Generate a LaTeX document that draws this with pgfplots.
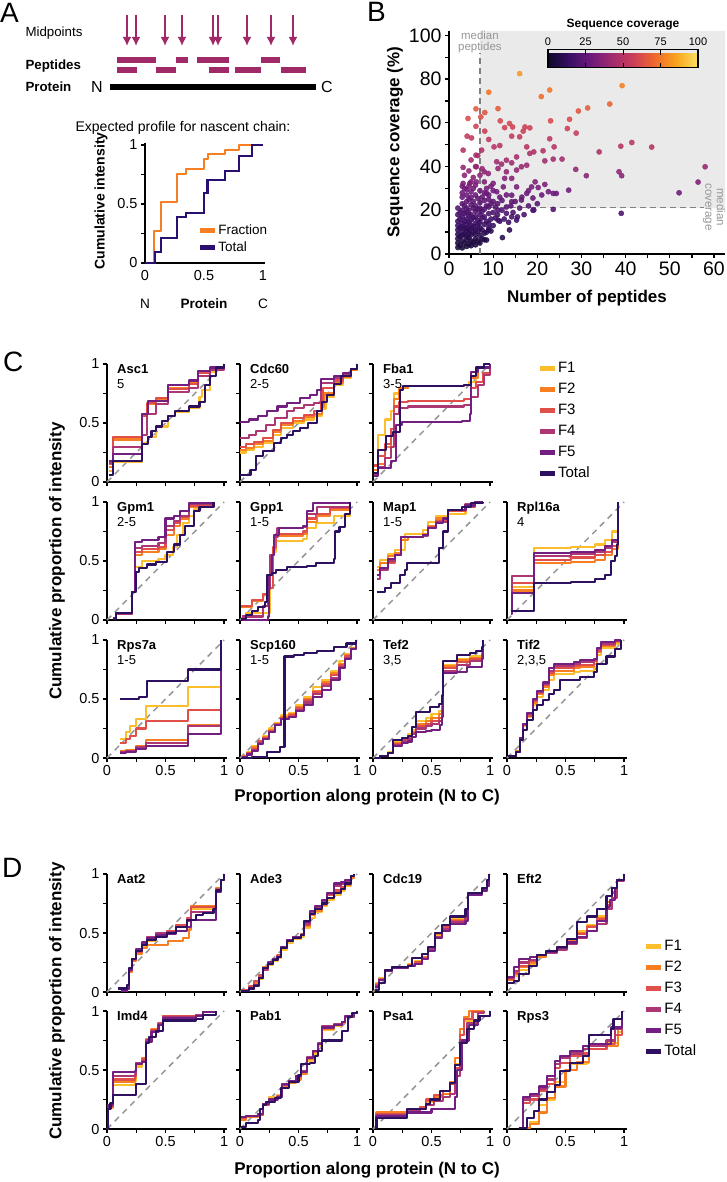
\documentclass[border=0pt]{standalone}
\usepackage{fontspec}
\setmainfont{Liberation Sans}
\usepackage{pgfplots}
\pgfplotsset{compat=1.18}
\usetikzlibrary{arrows.meta}
\newcommand{\fs}[1]{\fontsize{#1}{#1}\selectfont}
\definecolor{cF1}{RGB}{252,190,44}
\definecolor{cF2}{RGB}{247,127,33}
\definecolor{cF3}{RGB}{224,79,73}
\definecolor{cF4}{RGB}{173,55,115}
\definecolor{cF5}{RGB}{114,31,129}
\definecolor{cTot}{RGB}{45,17,96}
\definecolor{mag}{RGB}{160,42,104}
\definecolor{dgray}{RGB}{150,150,150}
\definecolor{bggray}{RGB}{234,234,234}
\pgfplotsset{
 colormap={inf}{rgb255(0cm)=(15,9,45) rgb255(1cm)=(58,14,100) rgb255(2cm)=(110,26,122) rgb255(3cm)=(162,44,110) rgb255(4cm)=(205,62,88) rgb255(5cm)=(240,105,45) rgb255(6cm)=(250,165,30) rgb255(7cm)=(248,225,100)},
 f1/.style={const plot, cF1, line width=2.1pt, line join=round},
 f2/.style={const plot, cF2, line width=2.1pt, line join=round},
 f3/.style={const plot, cF3, line width=2.1pt, line join=round},
 f4/.style={const plot, cF4, line width=2.1pt, line join=round},
 f5/.style={const plot, cF5, line width=2.1pt, line join=round},
 tot/.style={const plot, cTot, line width=2.1pt, line join=round},
 diag/.style={sharp plot, dgray, dash pattern=on 6pt off 5pt, line width=1.5pt, forget plot},
 gp/.style={scale only axis, width=120pt, height=118pt, xmin=0, xmax=1.025, ymin=0, ymax=1,
   axis lines*=left, axis line style={line width=1.4pt, black},
   xtick={0,0.5,1}, minor xtick={0.25,0.75}, ytick={0,0.5,1}, minor ytick={0.25,0.75},
   tick align=outside, major tick length=4pt, minor tick length=4pt,
   tick style={black, line width=1.3pt}, xticklabels={}, yticklabels={}, clip=false,
   anchor=south west, tick label style={font=\fs{14.5}}},
 ylab/.style={yticklabels={0,0.5,1}},
 xlab/.style={xticklabels={0,0.5,1}},
 flegend/.style={legend entries={F1,F2,F3,F4,F5,Total}, legend cell align=left,
   legend style={draw=none, fill=none, font=\fs{15}, row sep=5pt, anchor=north west,
   nodes={inner sep=1pt, text height=11pt, text depth=3pt}},
   legend image code/.code={\draw[##1, line width=5pt] (0pt,0pt) -- (15pt,0pt);}},
}
\newcommand{\glab}[2]{\node[anchor=north west, inner sep=0pt, align=left, font=\fs{13}, xshift=10pt] at (rel axis cs:0,1) {\textbf{#1}\\[2pt]#2};}
\newcommand{\glabd}[1]{\node[anchor=north west, inner sep=0pt, align=left, font=\fs{13}, xshift=10pt] at (rel axis cs:0,1) {\textbf{#1}};}
\begin{document}
\begin{tikzpicture}
\useasboundingbox (0,0) rectangle (726pt,-1182pt);
% ---------- panel letters
\node[font=\fs{28}, anchor=north west, inner sep=0] at (0pt,-3pt) {A};
\node[font=\fs{28}, anchor=north west, inner sep=0] at (367pt,-2pt) {B};
\node[font=\fs{28}, anchor=north west, inner sep=0] at (3pt,-352pt) {C};
\node[font=\fs{28}, anchor=north west, inner sep=0] at (2pt,-858pt) {D};
% ---------- panel A schematic
\begin{axis}[at={(100pt,-100pt)}, anchor=south west, scale only axis, width=235pt, height=92pt,
  xmin=100, xmax=335, ymin=-100, ymax=-8, hide axis, clip=false]
\addplot[black, line width=6pt] coordinates {(110,-87) (316,-87)};
\addplot[mag, line width=6.5pt, unbounded coords=jump] coordinates {(117,-60) (156,-60) (nan,nan) (176,-60) (188,-60) (nan,nan) (197,-60) (229,-60) (nan,nan) (261,-60) (280,-60)};
\addplot[mag, line width=6.5pt, unbounded coords=jump] coordinates {(117,-70) (137,-70) (nan,nan) (156,-70) (176,-70) (nan,nan) (209,-70) (229,-70) (nan,nan) (235,-70) (261,-70) (nan,nan) (281,-70) (306,-70)};
\addplot[mag, line width=2pt, quiver={u=0,v=-31}, -{Latex[length=9pt,width=9pt]}] coordinates {(127,-15) (136,-15) (165,-15) (182,-15) (213,-15) (218,-15) (247,-15) (271,-15) (293,-15)};
\end{axis}
\node[anchor=west, font=\fs{13.3}] at (22pt,-33pt) {Midpoints};
\node[anchor=west, font=\fs{13.3}] at (22pt,-66pt) {\textbf{Peptides}};
\node[anchor=west, font=\fs{13.3}] at (22pt,-87pt) {\textbf{Protein}};
\node[font=\fs{16}] at (97pt,-87pt) {N};
\node[font=\fs{16}] at (327pt,-87pt) {C};
\node[font=\fs{14}] at (183pt,-128pt) {Expected profile for nascent chain:};
% ---------- panel A plot
\begin{axis}[at={(145pt,-263pt)}, anchor=south west, scale only axis, width=120pt, height=120pt,
  xmin=0, xmax=1.017, ymin=0, ymax=1.017, axis lines*=left, axis line style={line width=1.4pt, black},
  xtick={0,0.5,1}, xticklabels={0,0.5,1}, ytick={0,0.5,1}, minor ytick={0.25,0.75}, yticklabels={0,0.5,1},
  tick align=outside, major tick length=4pt, minor tick length=4pt, tick style={black, line width=1.3pt},
  xtick style={draw=none}, tick label style={font=\fs{14.5}}, clip=false,
  legend entries={Fraction,Total}, legend cell align=left,
  legend style={at={(0.41,0.35)}, anchor=north west, draw=none, fill=none, font=\fs{13.5}, row sep=2.5pt,
    nodes={inner sep=1pt, text height=10pt, text depth=2.5pt}},
  legend image code/.code={\draw[#1, line width=5pt] (0pt,0pt) -- (15pt,0pt);}]
\addplot[f2] coordinates {(0,0) (0.076,0.27) (0.135,0.52) (0.27,0.755) (0.35,0.80) (0.50,0.88) (0.535,0.92) (0.68,0.96) (0.80,1.0) (1.0,1.0)};
\addplot[const plot, cTot!90!blue, line width=2.1pt] coordinates {(0,0) (0.085,0.09) (0.135,0.21) (0.27,0.39) (0.35,0.42) (0.50,0.59) (0.53,0.70) (0.68,0.78) (0.80,0.91) (0.91,1.0) (1.0,1.0)};
\end{axis}
\node[font=\fs{14}, rotate=90] at (101pt,-201pt) {\textbf{Cumulative intensity}};
\node[font=\fs{13.6}] at (145pt,-304pt) {N};
\node[font=\fs{13.6}] at (204pt,-304pt) {\textbf{Protein}};
\node[font=\fs{13.6}] at (263pt,-304pt) {C};
% ---------- panel B
\begin{axis}[at={(449pt,-254pt)}, anchor=south west, scale only axis, width=276pt, height=223pt,
  xmin=0, xmax=62.5, ymin=0, ymax=102, axis lines*=left, axis line style={line width=1.4pt, black},
  xtick={0,10,20,30,40,50,60}, xticklabels={0,10,20,30,40,50,60}, minor xtick={5,15,25,35,45,55},
  ytick={0,20,40,60,80,100}, yticklabels={0,20,40,60,80,100}, minor ytick={10,30,50,70,90},
  tick align=outside, major tick length=4pt, minor tick length=4pt, tick style={black, line width=1.3pt},
  tick label style={font=\fs{19.5}}, clip=false,
  colormap name=inf, point meta min=0, point meta max=100,
  colorbar horizontal,
  colorbar style={at={(parent axis.south west)}, anchor=south west, xshift=99pt, yshift=195pt,
    scale only axis, width=150pt, height=18pt, xtick={0,25,50,75,100}, xticklabels={0,25,50,75,100},
    xticklabel pos=upper, tick align=inside, major tick length=5pt, tick style={black, line width=1pt},
    axis line style={line width=1.2pt}, tick label style={font=\fs{11}},
    title={\textbf{Sequence coverage}}, title style={font=\fs{12}, at={(0.5,1)}, anchor=south, yshift=10pt}}]
\addplot[fill=bggray, draw=none] coordinates {(7,21) (62.5,21) (62.5,102) (7,102) (7,21)};
\addplot[sharp plot, gray, dash pattern=on 6pt off 4pt, line width=1.3pt] coordinates {(7,0) (7,92)};
\addplot[sharp plot, gray, dash pattern=on 6pt off 4pt, line width=1.3pt] coordinates {(7,21.3) (57.8,21.3)};
\addplot[scatter, only marks, mark=*, mark size=2.6pt, point meta=y, fill opacity=0.88, draw opacity=0.88,
  scatter/use mapped color={draw=mapped color, fill=mapped color}] coordinates {
(16.0,82.5) (9.0,74) (22.8,75) (20.9,72) (39.2,77) (36.4,68.6) (31.4,66.8) (29.3,65.4) (11.1,66.5) (6.1,66.4)
(7.2,62.7) (4.3,62) (8.1,64.7) (11.6,60.9) (23.0,60.9) (27.3,61.6) (26.8,57.4) (28.8,55.3) (18.3,57.7) (17.2,58.1)
(16.8,56.2) (13.7,59.7) (12.6,57.8) (14.4,58.1) (6.1,58.4) (8.1,56.2) (4.1,53.9) (5.1,53.1) (9.0,52.4) (14.2,53.9)
(16.0,53.6) (22.8,52.7) (23.8,49) (17.6,49) (10.2,49) (11.5,49.6) (38.9,49.3) (41.4,51) (45.9,48.9) (34.0,46.7)
(3.2,47.5) (7.4,47.5) (6.1,45.2) (15.3,44.4) (18.3,46) (19.2,46.7) (21.3,47.2) (23.6,43.4) (25.6,43.4) (21.7,42.6)
(10.8,42.2) (13.0,42.9) (14.2,41.7) (6.2,39.9) (3.2,39.6) (11.9,41.1) (16.4,39.9) (17.6,40.6) (11.1,39.1) (8.0,37.6)
(8.9,36.8) (13.0,37.6) (15.3,38.4) (28.7,38.7) (58.0,39.9) (38.5,37.6) (39.1,35.8) (31.1,35.8) (12.6,34.6) (14.2,34.6)
(19.5,33) (21.7,31.8) (10.0,32.3) (6.2,33) (4.7,32.3) (3.2,32.3) (56.4,32.9) (12.3,30.7) (15.3,30.7) (18.7,30.7)
(20.2,30.4) (22.5,28.5) (24.3,27.7) (27.1,29.2) (52.1,28) (23.6,27.7) (17.6,27.7) (14.2,26.9) (10.8,28.5) (8.5,27.7)
(19.0,25.6) (16.4,24.7) (14.2,23.9) (39.0,18.6) (23.6,20.4) (19.2,20.1) (13.0,18.6) (15.3,15.5) (12.1,7.5) (13.7,11)
(9.0,11) (8.5,6.4) (14.2,17) (11.1,15.5) (11.1,20.1)
(2,3) (2,5) (2,7) (2,9) (2,11) (2,13) (2,15) (2,18) (2,21)
(2.5,4) (2.5,8) (2.5,12) (2.5,16) (2.5,19)
(3,2.8) (3,6) (3,8.5) (3,10) (3,12.5) (3,14) (3,17) (3,20) (3,23) (3,26) (3,28) (3,31)
(3.5,5) (3.5,9) (3.5,11.5) (3.5,15) (3.5,18.5) (3.5,22) (3.5,30) (3.5,36)
(4,3.5) (4,6.5) (4,8) (4,10.5) (4,12) (4,13.5) (4,16) (4,19) (4,21) (4,24) (4,27) (4,29.5)
(4.5,4.5) (4.5,7.5) (4.5,9.5) (4.5,11) (4.5,14.5) (4.5,17.5) (4.5,20) (4.5,25) (4.5,31) (4.5,38)
(5,3.8) (5,6) (5,8.8) (5,11.8) (5,13) (5,15.5) (5,18) (5,22.5) (5,26) (5,28.5) (5,33) (5,43)
(5.5,5.5) (5.5,10) (5.5,12.5) (5.5,16.5) (5.5,21) (5.5,24) (5.5,30) (5.5,35)
(6,4.2) (6,7) (6,9) (6,11) (6,14) (6,17) (6,19.5) (6,22) (6,27) (6,31.5) (6,40)
(6.5,6) (6.5,10.5) (6.5,13) (6.5,15.5) (6.5,20.5) (6.5,25.5) (6.5,45)
(7,5) (7,8.5) (7,12) (7,14.5) (7,18) (7,21) (7,23.5) (7,29) (7,36)
(7.5,7) (7.5,11) (7.5,16.5) (7.5,19.5) (7.5,26) (7.5,39)
(8,6.5) (8,9.5) (8,13.5) (8,17) (8,20.5) (8,24.5) (8,28) (8,33)
(8.5,10) (8.5,15) (8.5,22) (8.5,30)
(9,12) (9,14) (9,18.5) (9,21.5) (9,25) (9,27)
(9.5,10.5) (9.5,16) (9.5,23) (9.5,31)
(10,13) (10,19) (10,24) (10,29)
(10.5,16.5) (10.5,21.5) (11,18) (11,23) (11.5,15) (11.5,26) (12,20) (12,24.5) (12.5,16) (13,21.5) (13,27)
(13.5,14.5) (14,22) (14.5,19) (15,24) (15.5,17) (16,21) (16.5,26) (17,18) (18,22) (18,29) (19,20) (20,23) (21,27)
};
\node[font=\fs{11.5}, text=dgray, align=center, inner sep=0pt] at (axis cs:7,97) {median\\[0pt]peptides};
\node[font=\fs{11.5}, text=dgray, align=center, inner sep=0pt, rotate=-90] at (axis cs:60,21.5) {median\\[0pt]coverage};
\end{axis}
\node[font=\fs{17}, rotate=90] at (395pt,-142pt) {\textbf{Sequence coverage (\%)}};
\node[font=\fs{17}] at (587pt,-298pt) {\textbf{Number of peptides}};
% ---------- panel C
% Asc1
\begin{axis}[gp, ylab, at={(107pt,-482pt)}]
\addplot[diag] coordinates {(0,0) (1,1)};
\addplot[f1] coordinates {(0.02,0.09) (0.05,0.17) (0.3,0.33) (0.35,0.38) (0.42,0.47) (0.52,0.56) (0.58,0.59) (0.7,0.63) (0.79,0.72) (0.81,0.78) (0.88,0.93) (0.93,0.97) (1,1)};
\addplot[f2] coordinates {(0.02,0.13) (0.05,0.36) (0.3,0.58) (0.34,0.66) (0.42,0.70) (0.52,0.80) (0.70,0.84) (0.78,0.93) (0.88,0.96) (1,1)};
\addplot[f3] coordinates {(0.02,0.15) (0.05,0.38) (0.3,0.56) (0.34,0.67) (0.42,0.71) (0.52,0.79) (0.70,0.83) (0.78,0.92) (0.88,0.96) (1,1)};
\addplot[f4] coordinates {(0.02,0.16) (0.05,0.30) (0.3,0.40) (0.34,0.58) (0.42,0.66) (0.52,0.76) (0.70,0.80) (0.78,0.90) (0.88,0.95) (1,1)};
\addplot[f5] coordinates {(0.02,0.18) (0.05,0.24) (0.3,0.58) (0.35,0.69) (0.52,0.82) (0.70,0.86) (0.78,0.94) (0.88,0.97) (1,1)};
\addplot[tot] coordinates {(0.02,0.06) (0.05,0.18) (0.3,0.32) (0.35,0.38) (0.38,0.43) (0.42,0.47) (0.47,0.52) (0.52,0.56) (0.58,0.60) (0.7,0.64) (0.79,0.68) (0.84,0.82) (0.88,0.90) (0.93,0.97) (1,1)};
\glab{Asc1}{5}
\end{axis}
% Cdc60
\begin{axis}[gp, at={(240pt,-482pt)}]
\addplot[diag] coordinates {(0,0) (1,1)};
\addplot[f1] coordinates {(0,0.25) (0.05,0.27) (0.12,0.30) (0.2,0.33) (0.28,0.40) (0.35,0.46) (0.45,0.50) (0.55,0.53) (0.63,0.56) (0.70,0.62) (0.73,0.72) (0.80,0.82) (0.88,0.88) (0.95,0.95) (1,1)};
\addplot[f2] coordinates {(0,0.27) (0.05,0.29) (0.12,0.32) (0.2,0.35) (0.28,0.42) (0.35,0.48) (0.45,0.52) (0.55,0.55) (0.63,0.58) (0.70,0.64) (0.72,0.75) (0.80,0.84) (0.88,0.89) (0.95,0.95) (1,1)};
\addplot[f3] coordinates {(0,0.30) (0.05,0.32) (0.12,0.34) (0.2,0.37) (0.28,0.44) (0.35,0.50) (0.45,0.54) (0.55,0.57) (0.63,0.60) (0.69,0.66) (0.71,0.80) (0.80,0.86) (0.88,0.90) (0.95,0.96) (1,1)};
\addplot[f4] coordinates {(0,0.37) (0.08,0.40) (0.14,0.43) (0.22,0.48) (0.3,0.54) (0.4,0.60) (0.46,0.63) (0.55,0.65) (0.63,0.67) (0.69,0.84) (0.80,0.88) (0.88,0.91) (0.95,0.96) (1,1)};
\addplot[f5] coordinates {(0,0.51) (0.08,0.53) (0.15,0.56) (0.23,0.60) (0.32,0.64) (0.40,0.67) (0.51,0.71) (0.6,0.74) (0.66,0.78) (0.69,0.87) (0.80,0.90) (0.88,0.92) (0.95,0.96) (1,1)};
\addplot[tot] coordinates {(0,0.06) (0.09,0.10) (0.14,0.22) (0.2,0.26) (0.29,0.33) (0.35,0.37) (0.4,0.40) (0.45,0.43) (0.51,0.46) (0.58,0.50) (0.66,0.60) (0.70,0.68) (0.74,0.74) (0.80,0.83) (0.86,0.90) (0.95,0.96) (1,1)};
\glab{Cdc60}{2-5}
\end{axis}
% Fba1
\begin{axis}[gp, at={(373pt,-482pt)}, flegend, legend style={at={(1.34,1.05)}}]
\addplot[diag] coordinates {(0,0) (1,1)};
\addplot[f1] coordinates {(0.01,0.08) (0.04,0.40) (0.1,0.53) (0.15,0.60) (0.18,0.75) (0.22,0.80) (0.3,0.81) (0.78,0.82) (0.82,0.85) (0.88,0.97) (0.95,1.0) (1,1)};
\addplot[f2] coordinates {(0.01,0.10) (0.04,0.15) (0.1,0.30) (0.15,0.45) (0.18,0.70) (0.22,0.80) (0.3,0.81) (0.78,0.82) (0.84,0.88) (0.9,0.97) (1,1)};
\addplot[f3] coordinates {(0.01,0.14) (0.04,0.22) (0.1,0.32) (0.15,0.45) (0.18,0.64) (0.22,0.68) (0.3,0.69) (0.78,0.70) (0.84,0.80) (0.88,0.85) (0.94,0.92) (1,1)};
\addplot[f4] coordinates {(0.01,0.06) (0.04,0.13) (0.1,0.20) (0.15,0.30) (0.18,0.58) (0.22,0.63) (0.3,0.64) (0.78,0.65) (0.84,0.72) (0.9,0.82) (0.95,0.91) (1,1)};
\addplot[f5] coordinates {(0.01,0.05) (0.04,0.12) (0.1,0.12) (0.15,0.18) (0.2,0.48) (0.25,0.51) (0.76,0.52) (0.83,0.58) (0.84,0.93) (0.9,0.97) (1,1)};
\addplot[tot] coordinates {(0.01,0.08) (0.04,0.27) (0.11,0.39) (0.17,0.42) (0.23,0.78) (0.26,0.81) (0.78,0.82) (0.84,0.9) (0.88,0.97) (0.95,1.0) (1,1)};
\glab{Fba1}{3-5}
\end{axis}
% Gpm1
\begin{axis}[gp, ylab, at={(107pt,-620pt)}]
\addplot[diag] coordinates {(0,0) (1,1)};
\addplot[f1] coordinates {(0.05,0.02) (0.08,0.06) (0.21,0.24) (0.24,0.45) (0.3,0.5) (0.44,0.52) (0.5,0.55) (0.56,0.62) (0.6,0.72) (0.65,0.82) (0.7,0.88) (0.74,0.94) (0.8,0.97) (0.91,1.0)};
\addplot[f2] coordinates {(0.05,0.02) (0.08,0.05) (0.21,0.24) (0.24,0.55) (0.3,0.58) (0.44,0.60) (0.5,0.72) (0.57,0.80) (0.62,0.86) (0.70,0.96) (0.91,1.0)};
\addplot[f3] coordinates {(0.05,0.02) (0.08,0.05) (0.21,0.24) (0.24,0.58) (0.3,0.60) (0.44,0.62) (0.5,0.76) (0.57,0.82) (0.62,0.87) (0.70,0.97) (0.91,1.0)};
\addplot[f4] coordinates {(0.05,0.02) (0.08,0.05) (0.21,0.24) (0.24,0.61) (0.3,0.63) (0.44,0.65) (0.5,0.80) (0.57,0.84) (0.62,0.88) (0.70,0.98) (0.91,1.0)};
\addplot[f5] coordinates {(0.05,0.02) (0.08,0.06) (0.21,0.24) (0.24,0.66) (0.3,0.68) (0.44,0.70) (0.5,0.86) (0.57,0.88) (0.62,0.92) (0.70,0.99) (0.91,1.0)};
\addplot[tot] coordinates {(0.05,0.01) (0.08,0.06) (0.21,0.24) (0.25,0.41) (0.27,0.44) (0.34,0.47) (0.42,0.49) (0.51,0.58) (0.57,0.64) (0.62,0.72) (0.67,0.80) (0.74,0.92) (0.79,0.96) (0.91,1.0)};
\glab{Gpm1}{2-5}
\end{axis}
% Gpp1
\begin{axis}[gp, at={(240pt,-620pt)}]
\addplot[diag] coordinates {(0,0) (1,1)};
\addplot[f1] coordinates {(0.04,0.06) (0.24,0.06) (0.26,0.50) (0.28,0.58) (0.31,0.67) (0.54,0.69) (0.57,0.78) (0.65,0.82) (0.8,0.88) (0.94,1.0)};
\addplot[f2] coordinates {(0.01,0.11) (0.1,0.16) (0.2,0.21) (0.24,0.27) (0.28,0.60) (0.31,0.71) (0.54,0.73) (0.57,0.83) (0.66,0.88) (0.77,0.93) (0.94,1.0)};
\addplot[f3] coordinates {(0.01,0.12) (0.1,0.17) (0.2,0.22) (0.24,0.27) (0.28,0.62) (0.31,0.73) (0.54,0.75) (0.57,0.86) (0.65,0.90) (0.77,0.95) (0.94,1.0)};
\addplot[f4] coordinates {(0.02,0.03) (0.2,0.12) (0.24,0.26) (0.26,0.55) (0.29,0.70) (0.32,0.78) (0.54,0.79) (0.57,0.90) (0.66,0.96) (0.94,1.0)};
\addplot[f5] coordinates {(0.02,0.0) (0.24,0.03) (0.25,0.38) (0.27,0.55) (0.29,0.72) (0.33,0.78) (0.54,0.80) (0.57,0.92) (0.62,0.99) (0.94,1.0)};
\addplot[tot] coordinates {(0.01,0.01) (0.05,0.04) (0.1,0.08) (0.15,0.11) (0.21,0.15) (0.23,0.38) (0.27,0.40) (0.31,0.42) (0.40,0.45) (0.57,0.46) (0.65,0.48) (0.8,0.52) (0.81,0.75) (0.85,0.79) (0.9,0.9) (0.94,1.0)};
\glab{Gpp1}{1-5}
\end{axis}
% Map1
\begin{axis}[gp, at={(373pt,-620pt)}]
\addplot[diag] coordinates {(0,0) (1,1)};
\addplot[f1] coordinates {(0.03,0.45) (0.06,0.51) (0.13,0.56) (0.19,0.59) (0.27,0.73) (0.43,0.76) (0.47,0.83) (0.54,0.88) (0.64,0.90) (0.79,0.96) (0.87,1.0) (0.94,1.0)};
\addplot[f2] coordinates {(0.03,0.42) (0.06,0.48) (0.13,0.54) (0.19,0.57) (0.24,0.68) (0.3,0.70) (0.43,0.73) (0.47,0.80) (0.54,0.86) (0.64,0.92) (0.79,0.97) (0.87,0.99) (0.94,1.0)};
\addplot[f3] coordinates {(0.03,0.38) (0.06,0.44) (0.13,0.48) (0.19,0.55) (0.24,0.70) (0.43,0.72) (0.47,0.79) (0.54,0.84) (0.64,0.92) (0.79,0.96) (0.87,1.0) (0.94,1.0)};
\addplot[f4] coordinates {(0.03,0.35) (0.06,0.42) (0.13,0.50) (0.19,0.55) (0.24,0.70) (0.43,0.71) (0.47,0.78) (0.54,0.83) (0.64,0.93) (0.79,0.98) (0.87,1.0) (0.94,1.0)};
\addplot[f5] coordinates {(0.03,0.38) (0.06,0.44) (0.13,0.52) (0.19,0.55) (0.24,0.70) (0.43,0.72) (0.47,0.78) (0.54,0.82) (0.6,0.86) (0.64,0.93) (0.79,0.97) (0.87,1.0) (0.94,1.0)};
\addplot[tot] coordinates {(0.03,0.24) (0.10,0.27) (0.15,0.31) (0.23,0.38) (0.27,0.42) (0.29,0.48) (0.52,0.48) (0.56,0.61) (0.6,0.75) (0.64,0.93) (0.76,0.96) (0.84,0.99) (0.94,1.0)};
\glab{Map1}{1-5}
\end{axis}
% Rpl16a
\begin{axis}[gp, at={(507pt,-620pt)}]
\addplot[diag] coordinates {(0,0) (1,1)};
\addplot[f1] coordinates {(0.03,0.08) (0.04,0.28) (0.23,0.61) (0.55,0.62) (0.75,0.64) (0.84,0.68) (0.9,0.75) (0.95,0.98)};
\addplot[f2] coordinates {(0.03,0.08) (0.04,0.25) (0.23,0.48) (0.55,0.49) (0.75,0.51) (0.84,0.55) (0.9,0.60) (0.95,0.97)};
\addplot[f3] coordinates {(0.03,0.08) (0.04,0.31) (0.23,0.51) (0.55,0.53) (0.75,0.55) (0.84,0.58) (0.9,0.63) (0.95,0.96)};
\addplot[f4] coordinates {(0.03,0.08) (0.04,0.37) (0.23,0.54) (0.55,0.56) (0.75,0.58) (0.84,0.61) (0.9,0.66) (0.95,0.97)};
\addplot[f5] coordinates {(0.03,0.05) (0.04,0.23) (0.23,0.57) (0.55,0.58) (0.75,0.59) (0.84,0.63) (0.9,0.68) (0.95,1.0)};
\addplot[tot] coordinates {(0.03,0.08) (0.23,0.31) (0.55,0.32) (0.75,0.35) (0.84,0.38) (0.89,0.50) (0.92,0.54) (0.94,0.64) (0.95,1.0)};
\glab{Rpl16a}{4}
\end{axis}
% Rps7a
\begin{axis}[gp, ylab, xlab, at={(107pt,-758pt)}]
\addplot[diag] coordinates {(0,0) (1,1)};
\addplot[f1] coordinates {(0.11,0.16) (0.16,0.22) (0.2,0.27) (0.25,0.33) (0.33,0.44) (0.69,0.60) (0.97,1.0)};
\addplot[f2] coordinates {(0.11,0.06) (0.16,0.07) (0.25,0.10) (0.33,0.15) (0.69,0.28) (0.97,1.0)};
\addplot[f3] coordinates {(0.11,0.13) (0.16,0.16) (0.2,0.19) (0.25,0.25) (0.33,0.31) (0.69,0.41) (0.97,1.0)};
\addplot[f4] coordinates {(0.11,0.05) (0.16,0.06) (0.25,0.09) (0.33,0.13) (0.69,0.27) (0.97,1.0)};
\addplot[f5] coordinates {(0.11,0.04) (0.16,0.05) (0.25,0.08) (0.33,0.10) (0.69,0.20) (0.97,1.0)};
\addplot[tot] coordinates {(0.11,0.50) (0.23,0.50) (0.27,0.52) (0.34,0.65) (0.69,0.75) (0.97,1.0)};
\glab{Rps7a}{1-5}
\end{axis}
% Scp160
\begin{axis}[gp, xlab, at={(240pt,-758pt)}]
\addplot[diag] coordinates {(0,0) (1,1)};
\addplot[f1] coordinates {(0.02,0.02) (0.06,0.05) (0.1,0.10) (0.15,0.14) (0.2,0.19) (0.25,0.25) (0.3,0.30) (0.35,0.36) (0.42,0.38) (0.48,0.45) (0.55,0.52) (0.62,0.60) (0.7,0.66) (0.78,0.74) (0.85,0.82) (0.9,0.88) (0.95,0.93) (0.99,1.0)};
\addplot[f2] coordinates {(0.02,0.02) (0.06,0.04) (0.1,0.09) (0.15,0.13) (0.2,0.18) (0.25,0.24) (0.3,0.29) (0.35,0.35) (0.42,0.37) (0.48,0.43) (0.55,0.50) (0.62,0.57) (0.7,0.64) (0.78,0.72) (0.85,0.80) (0.9,0.87) (0.95,0.93) (0.99,1.0)};
\addplot[f3] coordinates {(0.02,0.01) (0.06,0.04) (0.1,0.08) (0.15,0.14) (0.2,0.17) (0.25,0.23) (0.3,0.29) (0.35,0.34) (0.42,0.36) (0.48,0.42) (0.55,0.49) (0.62,0.56) (0.7,0.63) (0.78,0.70) (0.85,0.79) (0.9,0.86) (0.95,0.92) (0.99,1.0)};
\addplot[f4] coordinates {(0.02,0.01) (0.06,0.03) (0.1,0.07) (0.15,0.13) (0.2,0.16) (0.25,0.22) (0.3,0.28) (0.35,0.33) (0.42,0.35) (0.48,0.41) (0.55,0.47) (0.62,0.54) (0.7,0.61) (0.78,0.68) (0.85,0.77) (0.9,0.85) (0.95,0.92) (0.99,1.0)};
\addplot[f5] coordinates {(0.02,0.01) (0.06,0.03) (0.1,0.06) (0.15,0.12) (0.2,0.16) (0.25,0.22) (0.3,0.28) (0.35,0.33) (0.42,0.35) (0.48,0.40) (0.55,0.45) (0.62,0.52) (0.7,0.58) (0.78,0.66) (0.85,0.76) (0.9,0.84) (0.95,0.92) (0.99,1.0)};
\addplot[tot] coordinates {(0.02,0.0) (0.1,0.01) (0.23,0.05) (0.34,0.09) (0.38,0.86) (0.46,0.87) (0.55,0.89) (0.66,0.91) (0.8,0.94) (0.91,0.97) (0.99,1.0)};
\glab{Scp160}{1-5}
\end{axis}
% Tef2
\begin{axis}[gp, xlab, at={(373pt,-758pt)}]
\addplot[diag] coordinates {(0,0) (1,1)};
\addplot[f1] coordinates {(0.02,0.0) (0.06,0.02) (0.13,0.05) (0.17,0.14) (0.25,0.17) (0.3,0.20) (0.33,0.24) (0.37,0.31) (0.45,0.34) (0.5,0.37) (0.56,0.40) (0.59,0.48) (0.6,0.79) (0.72,0.84) (0.83,0.86) (0.93,0.90) (0.94,1.0)};
\addplot[f2] coordinates {(0.02,0.0) (0.06,0.02) (0.13,0.04) (0.17,0.13) (0.25,0.16) (0.3,0.18) (0.33,0.22) (0.37,0.29) (0.45,0.31) (0.5,0.34) (0.56,0.37) (0.59,0.46) (0.6,0.78) (0.72,0.83) (0.83,0.85) (0.93,0.89) (0.94,1.0)};
\addplot[f3] coordinates {(0.02,0.0) (0.06,0.02) (0.13,0.04) (0.17,0.12) (0.25,0.15) (0.3,0.17) (0.33,0.21) (0.37,0.27) (0.45,0.29) (0.5,0.31) (0.56,0.34) (0.59,0.43) (0.6,0.76) (0.72,0.81) (0.83,0.84) (0.93,0.88) (0.94,1.0)};
\addplot[f4] coordinates {(0.02,0.0) (0.06,0.02) (0.13,0.04) (0.17,0.11) (0.25,0.14) (0.3,0.16) (0.33,0.20) (0.37,0.25) (0.45,0.27) (0.5,0.29) (0.56,0.31) (0.59,0.40) (0.6,0.74) (0.72,0.79) (0.83,0.82) (0.93,0.87) (0.94,1.0)};
\addplot[f5] coordinates {(0.02,0.0) (0.06,0.02) (0.13,0.04) (0.17,0.10) (0.25,0.13) (0.3,0.14) (0.33,0.18) (0.37,0.22) (0.45,0.23) (0.5,0.24) (0.57,0.28) (0.59,0.35) (0.6,0.72) (0.72,0.73) (0.8,0.77) (0.93,0.84) (0.94,1.0)};
\addplot[tot] coordinates {(0.02,0.0) (0.06,0.02) (0.13,0.04) (0.17,0.15) (0.25,0.17) (0.3,0.19) (0.33,0.26) (0.37,0.39) (0.49,0.43) (0.56,0.46) (0.59,0.53) (0.6,0.82) (0.72,0.87) (0.83,0.89) (0.88,0.91) (0.93,0.94) (0.94,1.0)};
\glab{Tef2}{3,5}
\end{axis}
% Tif2
\begin{axis}[gp, xlab, at={(507pt,-758pt)}]
\addplot[diag] coordinates {(0,0) (1,1)};
\addplot[f1] coordinates {(0.01,0.02) (0.08,0.06) (0.11,0.17) (0.14,0.27) (0.17,0.35) (0.22,0.45) (0.26,0.52) (0.31,0.58) (0.36,0.66) (0.40,0.71) (0.57,0.73) (0.62,0.74) (0.74,0.77) (0.77,0.87) (0.80,0.93) (0.92,0.97) (0.97,1.0)};
\addplot[f2] coordinates {(0.01,0.02) (0.08,0.06) (0.11,0.17) (0.14,0.28) (0.17,0.36) (0.22,0.47) (0.26,0.54) (0.31,0.60) (0.36,0.70) (0.40,0.74) (0.57,0.76) (0.62,0.77) (0.74,0.80) (0.77,0.90) (0.80,0.95) (0.92,0.98) (0.97,1.0)};
\addplot[f3] coordinates {(0.01,0.02) (0.08,0.05) (0.11,0.17) (0.14,0.28) (0.17,0.36) (0.22,0.48) (0.26,0.55) (0.31,0.62) (0.36,0.72) (0.40,0.76) (0.57,0.78) (0.62,0.79) (0.74,0.82) (0.77,0.91) (0.80,0.96) (0.92,0.99) (0.97,1.0)};
\addplot[f4] coordinates {(0.01,0.02) (0.08,0.05) (0.11,0.17) (0.14,0.29) (0.17,0.37) (0.22,0.49) (0.26,0.56) (0.31,0.63) (0.36,0.74) (0.40,0.78) (0.57,0.80) (0.62,0.81) (0.74,0.83) (0.77,0.92) (0.80,0.97) (0.92,0.99) (0.97,1.0)};
\addplot[f5] coordinates {(0.01,0.02) (0.08,0.05) (0.11,0.17) (0.14,0.29) (0.17,0.38) (0.22,0.50) (0.26,0.57) (0.31,0.64) (0.36,0.76) (0.40,0.80) (0.57,0.81) (0.62,0.83) (0.74,0.84) (0.77,0.93) (0.80,0.98) (0.92,1.0) (0.97,1.0)};
\addplot[tot] coordinates {(0.01,0.02) (0.08,0.05) (0.11,0.15) (0.14,0.24) (0.17,0.32) (0.22,0.41) (0.26,0.45) (0.31,0.49) (0.36,0.54) (0.40,0.58) (0.45,0.66) (0.57,0.66) (0.62,0.69) (0.74,0.73) (0.77,0.80) (0.85,0.86) (0.92,0.92) (0.97,1.0)};
\glab{Tif2}{2,3,5}
\end{axis}
\node[font=\fs{17}, rotate=90] at (57pt,-561pt) {\textbf{Cumulative proportion of intensity}};
\node[font=\fs{17}] at (367pt,-797pt) {\textbf{Proportion along protein (N to C)}};
% ---------- panel D
% Aat2
\begin{axis}[gp, ylab, at={(107pt,-992pt)}]
\addplot[diag] coordinates {(0,0) (1,1)};
\addplot[f1] coordinates {(0.12,0.01) (0.17,0.04) (0.19,0.18) (0.21,0.26) (0.25,0.33) (0.3,0.38) (0.34,0.43) (0.42,0.48) (0.51,0.52) (0.59,0.57) (0.68,0.62) (0.72,0.70) (0.91,0.70) (0.93,0.86) (0.97,0.95) (1,1)};
\addplot[f2] coordinates {(0.12,0.01) (0.17,0.03) (0.19,0.17) (0.21,0.26) (0.25,0.32) (0.3,0.37) (0.34,0.40) (0.45,0.40) (0.52,0.43) (0.65,0.46) (0.7,0.53) (0.72,0.73) (0.91,0.73) (0.93,0.88) (0.97,0.95) (1,1)};
\addplot[f3] coordinates {(0.12,0.01) (0.17,0.03) (0.19,0.18) (0.21,0.27) (0.25,0.34) (0.3,0.40) (0.34,0.45) (0.42,0.49) (0.51,0.52) (0.59,0.57) (0.68,0.63) (0.72,0.72) (0.91,0.72) (0.93,0.87) (0.97,0.95) (1,1)};
\addplot[f4] coordinates {(0.12,0.01) (0.17,0.03) (0.19,0.19) (0.21,0.28) (0.25,0.36) (0.3,0.42) (0.34,0.47) (0.42,0.50) (0.51,0.51) (0.59,0.55) (0.68,0.60) (0.72,0.68) (0.91,0.68) (0.93,0.86) (0.97,0.95) (1,1)};
\addplot[f5] coordinates {(0.12,0.01) (0.17,0.03) (0.19,0.19) (0.21,0.28) (0.25,0.36) (0.3,0.42) (0.34,0.46) (0.42,0.48) (0.51,0.49) (0.59,0.52) (0.68,0.55) (0.72,0.61) (0.91,0.61) (0.93,0.85) (0.97,0.95) (1,1)};
\addplot[tot] coordinates {(0.09,0.03) (0.17,0.06) (0.19,0.20) (0.21,0.28) (0.25,0.35) (0.3,0.40) (0.34,0.44) (0.42,0.47) (0.51,0.50) (0.59,0.55) (0.68,0.61) (0.76,0.65) (0.82,0.67) (0.91,0.70) (0.93,0.86) (0.97,0.95) (1.0,1.0)};
\glabd{Aat2}
\end{axis}
% Ade3
\begin{axis}[gp, at={(240pt,-992pt)}]
\addplot[diag] coordinates {(0,0) (1,1)};
\addplot[f1] coordinates {(0.01,0.01) (0.08,0.03) (0.12,0.06) (0.16,0.11) (0.2,0.19) (0.24,0.23) (0.28,0.26) (0.32,0.29) (0.35,0.36) (0.4,0.42) (0.45,0.45) (0.52,0.47) (0.55,0.54) (0.6,0.63) (0.64,0.68) (0.7,0.73) (0.74,0.78) (0.8,0.82) (0.86,0.86) (0.9,0.90) (0.95,0.97) (0.97,1.0)};
\addplot[f2] coordinates {(0.01,0.02) (0.08,0.04) (0.12,0.08) (0.16,0.13) (0.2,0.21) (0.24,0.24) (0.28,0.27) (0.32,0.30) (0.35,0.37) (0.4,0.43) (0.45,0.46) (0.52,0.48) (0.55,0.56) (0.6,0.65) (0.64,0.69) (0.7,0.74) (0.74,0.80) (0.8,0.84) (0.86,0.87) (0.9,0.91) (0.95,0.97) (0.97,1.0)};
\addplot[f3] coordinates {(0.01,0.02) (0.08,0.05) (0.12,0.09) (0.16,0.14) (0.2,0.20) (0.24,0.25) (0.28,0.28) (0.32,0.31) (0.35,0.38) (0.4,0.44) (0.45,0.47) (0.52,0.49) (0.55,0.57) (0.6,0.66) (0.64,0.71) (0.7,0.76) (0.74,0.82) (0.8,0.86) (0.86,0.89) (0.9,0.93) (0.95,0.98) (0.97,1.0)};
\addplot[f4] coordinates {(0.01,0.01) (0.08,0.03) (0.12,0.06) (0.16,0.12) (0.2,0.19) (0.24,0.24) (0.28,0.27) (0.32,0.30) (0.35,0.37) (0.4,0.43) (0.45,0.46) (0.52,0.48) (0.55,0.58) (0.6,0.68) (0.64,0.72) (0.7,0.77) (0.74,0.83) (0.8,0.90) (0.86,0.92) (0.9,0.94) (0.95,0.98) (0.97,1.0)};
\addplot[f5] coordinates {(0.01,0.01) (0.08,0.03) (0.12,0.06) (0.16,0.12) (0.2,0.20) (0.24,0.25) (0.28,0.28) (0.32,0.30) (0.35,0.38) (0.4,0.44) (0.45,0.47) (0.52,0.48) (0.55,0.59) (0.6,0.69) (0.64,0.73) (0.7,0.78) (0.74,0.84) (0.8,0.92) (0.86,0.93) (0.9,0.95) (0.95,0.98) (0.97,1.0)};
\addplot[tot] coordinates {(0.01,0.01) (0.08,0.03) (0.12,0.05) (0.16,0.12) (0.2,0.20) (0.24,0.24) (0.28,0.27) (0.32,0.30) (0.35,0.37) (0.4,0.43) (0.45,0.46) (0.52,0.48) (0.55,0.60) (0.6,0.66) (0.64,0.70) (0.7,0.75) (0.74,0.80) (0.8,0.84) (0.86,0.87) (0.9,0.92) (0.95,0.98) (0.97,1.0)};
\glabd{Ade3}
\end{axis}
% Cdc19
\begin{axis}[gp, at={(373pt,-992pt)}]
\addplot[diag] coordinates {(0,0) (1,1)};
\addplot[f1] coordinates {(0.02,0.08) (0.05,0.12) (0.1,0.19) (0.16,0.21) (0.3,0.24) (0.36,0.26) (0.42,0.30) (0.47,0.36) (0.53,0.48) (0.59,0.56) (0.66,0.62) (0.79,0.66) (0.81,0.84) (0.93,0.88) (0.97,0.92) (0.99,1.0)};
\addplot[f2] coordinates {(0.02,0.07) (0.05,0.11) (0.1,0.19) (0.16,0.21) (0.3,0.23) (0.36,0.25) (0.42,0.30) (0.47,0.37) (0.53,0.49) (0.59,0.56) (0.66,0.61) (0.79,0.65) (0.81,0.84) (0.93,0.87) (0.97,0.92) (0.99,1.0)};
\addplot[f3] coordinates {(0.02,0.06) (0.05,0.11) (0.1,0.18) (0.16,0.20) (0.3,0.23) (0.36,0.25) (0.42,0.29) (0.47,0.37) (0.53,0.50) (0.59,0.55) (0.66,0.60) (0.79,0.63) (0.81,0.83) (0.93,0.87) (0.97,0.91) (0.99,1.0)};
\addplot[f4] coordinates {(0.02,0.05) (0.05,0.10) (0.1,0.18) (0.16,0.20) (0.3,0.22) (0.36,0.24) (0.42,0.28) (0.47,0.36) (0.53,0.47) (0.59,0.53) (0.66,0.59) (0.79,0.62) (0.81,0.83) (0.93,0.86) (0.97,0.90) (0.99,1.0)};
\addplot[f5] coordinates {(0.02,0.04) (0.05,0.10) (0.1,0.18) (0.16,0.20) (0.3,0.22) (0.36,0.24) (0.42,0.28) (0.47,0.35) (0.53,0.46) (0.59,0.52) (0.66,0.58) (0.79,0.60) (0.81,0.82) (0.93,0.86) (0.97,0.90) (0.99,1.0)};
\addplot[tot] coordinates {(0.02,0.02) (0.05,0.08) (0.1,0.19) (0.16,0.21) (0.3,0.22) (0.33,0.29) (0.42,0.32) (0.47,0.38) (0.53,0.50) (0.59,0.57) (0.66,0.64) (0.79,0.70) (0.81,0.84) (0.93,0.88) (0.97,0.95) (0.99,1.0)};
\glabd{Cdc19}
\end{axis}
% Eft2
\begin{axis}[gp, at={(507pt,-992pt)}, flegend, legend style={at={(1.11,0.47)}}]
\addplot[diag] coordinates {(0,0) (1,1)};
\addplot[f1] coordinates {(0.01,0.10) (0.06,0.14) (0.1,0.19) (0.19,0.24) (0.26,0.30) (0.33,0.34) (0.43,0.38) (0.51,0.44) (0.6,0.52) (0.68,0.57) (0.77,0.64) (0.85,0.76) (0.9,0.85) (0.94,0.95) (1,1)};
\addplot[f2] coordinates {(0.01,0.10) (0.06,0.15) (0.1,0.21) (0.19,0.25) (0.26,0.30) (0.33,0.34) (0.43,0.37) (0.51,0.43) (0.6,0.50) (0.68,0.56) (0.77,0.63) (0.85,0.76) (0.9,0.85) (0.94,0.95) (1,1)};
\addplot[f3] coordinates {(0.01,0.11) (0.06,0.16) (0.1,0.22) (0.19,0.26) (0.26,0.31) (0.33,0.34) (0.43,0.37) (0.51,0.42) (0.6,0.49) (0.68,0.55) (0.77,0.62) (0.85,0.74) (0.9,0.84) (0.94,0.95) (1,1)};
\addplot[f4] coordinates {(0.01,0.12) (0.06,0.18) (0.1,0.25) (0.19,0.27) (0.26,0.31) (0.33,0.33) (0.43,0.36) (0.51,0.41) (0.6,0.46) (0.68,0.52) (0.77,0.58) (0.85,0.70) (0.9,0.80) (0.94,0.94) (1,1)};
\addplot[f5] coordinates {(0.01,0.13) (0.06,0.21) (0.1,0.28) (0.2,0.30) (0.26,0.31) (0.33,0.34) (0.43,0.37) (0.51,0.42) (0.6,0.47) (0.68,0.52) (0.77,0.60) (0.85,0.72) (0.88,0.78) (0.92,0.88) (0.94,0.95) (1,1)};
\addplot[tot] coordinates {(0.01,0.08) (0.06,0.09) (0.1,0.15) (0.19,0.22) (0.26,0.31) (0.33,0.35) (0.43,0.38) (0.51,0.45) (0.6,0.59) (0.68,0.64) (0.77,0.70) (0.85,0.81) (0.9,0.88) (0.94,0.95) (1,1)};
\glabd{Eft2}
\end{axis}
% Imd4
\begin{axis}[gp, ylab, xlab, at={(107pt,-1129pt)}]
\addplot[diag] coordinates {(0,0) (1,1)};
\addplot[f1] coordinates {(0.0,0.0) (0.01,0.18) (0.05,0.37) (0.24,0.41) (0.25,0.53) (0.3,0.58) (0.33,0.74) (0.38,0.83) (0.44,0.88) (0.48,0.95) (0.76,0.96) (0.82,0.99) (0.93,1.0)};
\addplot[f2] coordinates {(0.0,0.0) (0.01,0.19) (0.05,0.40) (0.24,0.43) (0.25,0.55) (0.3,0.60) (0.33,0.76) (0.38,0.85) (0.44,0.90) (0.48,0.96) (0.76,0.97) (0.82,0.99) (0.93,1.0)};
\addplot[f3] coordinates {(0.0,0.0) (0.01,0.19) (0.05,0.42) (0.24,0.45) (0.25,0.56) (0.3,0.59) (0.33,0.75) (0.38,0.84) (0.44,0.90) (0.48,0.96) (0.76,0.97) (0.82,0.99) (0.93,1.0)};
\addplot[f4] coordinates {(0.0,0.0) (0.01,0.20) (0.05,0.45) (0.24,0.47) (0.25,0.56) (0.3,0.58) (0.33,0.75) (0.38,0.83) (0.44,0.89) (0.48,0.95) (0.76,0.97) (0.82,0.99) (0.93,1.0)};
\addplot[f5] coordinates {(0.0,0.0) (0.01,0.20) (0.05,0.48) (0.24,0.49) (0.25,0.55) (0.3,0.57) (0.33,0.74) (0.38,0.82) (0.44,0.88) (0.48,0.94) (0.76,0.96) (0.82,0.99) (0.93,1.0)};
\addplot[tot] coordinates {(0.0,0.0) (0.01,0.17) (0.03,0.22) (0.05,0.29) (0.24,0.29) (0.25,0.38) (0.33,0.73) (0.36,0.78) (0.42,0.83) (0.48,0.92) (0.76,0.93) (0.82,0.97) (0.93,1.0)};
\glabd{Imd4}
\end{axis}
% Pab1
\begin{axis}[gp, xlab, at={(240pt,-1129pt)}]
\addplot[diag] coordinates {(0,0) (1,1)};
\addplot[f1] coordinates {(0.01,0.09) (0.05,0.10) (0.15,0.13) (0.2,0.21) (0.25,0.27) (0.32,0.29) (0.36,0.37) (0.42,0.40) (0.48,0.43) (0.52,0.49) (0.57,0.58) (0.62,0.64) (0.67,0.70) (0.7,0.84) (0.8,0.87) (0.87,0.90) (0.9,0.95) (0.97,0.98) (1,1)};
\addplot[f2] coordinates {(0.01,0.08) (0.05,0.10) (0.15,0.12) (0.2,0.20) (0.25,0.25) (0.32,0.28) (0.36,0.36) (0.42,0.39) (0.48,0.42) (0.52,0.47) (0.57,0.59) (0.62,0.65) (0.67,0.72) (0.7,0.85) (0.8,0.88) (0.87,0.90) (0.9,0.95) (0.97,0.98) (1,1)};
\addplot[f3] coordinates {(0.01,0.09) (0.05,0.11) (0.15,0.12) (0.2,0.20) (0.25,0.25) (0.32,0.28) (0.36,0.37) (0.42,0.40) (0.48,0.44) (0.52,0.48) (0.57,0.60) (0.62,0.66) (0.67,0.72) (0.7,0.86) (0.8,0.88) (0.87,0.91) (0.9,0.95) (0.97,0.98) (1,1)};
\addplot[f4] coordinates {(0.01,0.10) (0.05,0.11) (0.15,0.13) (0.2,0.21) (0.25,0.25) (0.32,0.27) (0.36,0.37) (0.42,0.41) (0.48,0.45) (0.52,0.49) (0.57,0.61) (0.62,0.66) (0.67,0.73) (0.7,0.87) (0.8,0.89) (0.87,0.91) (0.9,0.95) (0.97,0.98) (1,1)};
\addplot[f5] coordinates {(0.01,0.10) (0.05,0.11) (0.15,0.13) (0.2,0.21) (0.25,0.25) (0.32,0.27) (0.36,0.38) (0.42,0.41) (0.48,0.45) (0.52,0.48) (0.57,0.60) (0.62,0.66) (0.67,0.72) (0.7,0.86) (0.8,0.88) (0.87,0.91) (0.9,0.96) (0.97,0.98) (1,1)};
\addplot[tot] coordinates {(0.01,0.02) (0.05,0.05) (0.15,0.08) (0.17,0.17) (0.2,0.2) (0.22,0.23) (0.3,0.26) (0.35,0.35) (0.42,0.40) (0.5,0.46) (0.52,0.55) (0.6,0.56) (0.64,0.62) (0.67,0.66) (0.7,0.75) (0.8,0.75) (0.87,0.83) (0.92,0.95) (0.96,0.98) (1,1)};
\glabd{Pab1}
\end{axis}
% Psa1
\begin{axis}[gp, xlab, at={(373pt,-1129pt)}]
\addplot[diag] coordinates {(0,0) (1,1)};
\addplot[f1] coordinates {(0.02,0.02) (0.03,0.12) (0.26,0.12) (0.29,0.15) (0.4,0.17) (0.45,0.23) (0.52,0.27) (0.6,0.30) (0.66,0.38) (0.7,0.55) (0.74,0.80) (0.78,0.92) (0.85,0.99) (0.95,1.0)};
\addplot[f2] coordinates {(0.02,0.02) (0.03,0.14) (0.26,0.14) (0.29,0.16) (0.4,0.19) (0.45,0.24) (0.52,0.27) (0.6,0.30) (0.66,0.40) (0.7,0.60) (0.74,0.85) (0.78,0.95) (0.82,1.0) (0.95,1.0)};
\addplot[f3] coordinates {(0.02,0.02) (0.03,0.13) (0.26,0.13) (0.29,0.16) (0.4,0.19) (0.45,0.25) (0.52,0.29) (0.6,0.32) (0.66,0.38) (0.7,0.52) (0.74,0.80) (0.78,0.93) (0.85,0.99) (0.95,1.0)};
\addplot[f4] coordinates {(0.02,0.02) (0.03,0.12) (0.26,0.12) (0.29,0.15) (0.4,0.17) (0.45,0.20) (0.52,0.24) (0.6,0.27) (0.66,0.30) (0.7,0.45) (0.74,0.75) (0.8,0.90) (0.9,0.98) (0.95,1.0)};
\addplot[f5] coordinates {(0.02,0.02) (0.03,0.11) (0.26,0.11) (0.29,0.14) (0.4,0.14) (0.5,0.17) (0.6,0.17) (0.7,0.27) (0.72,0.50) (0.76,0.75) (0.82,0.88) (0.9,0.96) (1,1)};
\addplot[tot] coordinates {(0.02,0.01) (0.03,0.09) (0.26,0.09) (0.29,0.17) (0.4,0.17) (0.45,0.21) (0.49,0.25) (0.57,0.32) (0.66,0.39) (0.7,0.54) (0.74,0.73) (0.8,0.85) (0.86,0.92) (0.91,0.96) (1,1)};
\glabd{Psa1}
\end{axis}
% Rps3
\begin{axis}[gp, xlab, at={(507pt,-1129pt)}]
\addplot[diag] coordinates {(0,0) (1,1)};
\addplot[f1] coordinates {(0.12,0.01) (0.2,0.06) (0.27,0.20) (0.34,0.25) (0.41,0.40) (0.5,0.50) (0.55,0.55) (0.68,0.56) (0.7,0.70) (0.85,0.73) (0.95,0.82) (0.98,1.0)};
\addplot[f2] coordinates {(0.12,0.01) (0.2,0.04) (0.27,0.14) (0.34,0.26) (0.41,0.36) (0.5,0.50) (0.6,0.57) (0.7,0.68) (0.85,0.70) (0.95,0.85) (0.98,1.0)};
\addplot[f3] coordinates {(0.12,0.01) (0.14,0.22) (0.2,0.25) (0.27,0.32) (0.34,0.38) (0.41,0.52) (0.45,0.56) (0.54,0.62) (0.65,0.64) (0.7,0.68) (0.85,0.72) (0.92,0.80) (0.98,1.0)};
\addplot[f4] coordinates {(0.12,0.01) (0.14,0.25) (0.2,0.28) (0.27,0.34) (0.34,0.42) (0.41,0.55) (0.45,0.60) (0.54,0.64) (0.65,0.68) (0.7,0.70) (0.85,0.75) (0.92,0.85) (0.98,1.0)};
\addplot[f5] coordinates {(0.10,0.01) (0.14,0.27) (0.2,0.30) (0.27,0.36) (0.34,0.45) (0.41,0.58) (0.45,0.62) (0.54,0.66) (0.65,0.70) (0.7,0.72) (0.89,0.86) (0.98,1.0)};
\addplot[tot] coordinates {(0.10,0.01) (0.17,0.09) (0.23,0.15) (0.27,0.25) (0.34,0.31) (0.41,0.37) (0.45,0.49) (0.54,0.56) (0.65,0.62) (0.7,0.80) (0.89,0.85) (0.91,0.93) (0.98,1.0)};
\glabd{Rps3}
\end{axis}
\node[font=\fs{17}, rotate=90] at (57pt,-1001pt) {\textbf{Cumulative proportion of intensity}};
\node[font=\fs{17}] at (367pt,-1170pt) {\textbf{Proportion along protein (N to C)}};
\end{tikzpicture}
\end{document}
